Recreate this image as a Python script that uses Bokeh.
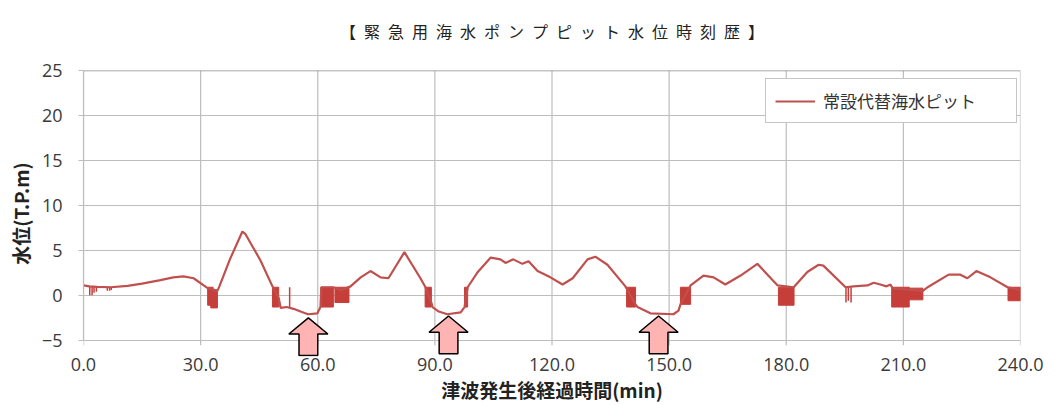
from bokeh.plotting import figure
from bokeh.models import (Range1d, FixedTicker, NumeralTickFormatter, PolyAnnotation,
                          Legend, LegendItem, Span, Title)
from bokeh.embed import file_html
from bokeh.resources import INLINE

title_text = "【緊急用海水ポンプピット水位時刻歴】"
series_name = "常設代替海水ピット"
x_label = "津波発生後経過時間(min)"
y_label = "水位(T.P.m)"

x_ticks = [0, 30, 60, 90, 120, 150, 180, 210, 240]
y_ticks = [-5, 0, 5, 10, 15, 20, 25]

# main water-level trace (min, T.P.m)
time_min = [0, 1.5, 3.5, 7.0, 11.3, 15.0, 19.7, 23.0, 25.6, 28.2, 30.8, 31.8, 34.3, 34.8,
            37.5, 40.7, 41.5, 45.3, 48.4, 50.0, 50.5, 52.0, 53.8, 55.6, 57.5, 59.9, 60.7,
            60.9, 64.0, 66.0, 68.4, 71.0, 73.5, 76.1, 78.1, 82.2, 86.3, 87.6, 89.1, 89.4,
            91.0, 93.2, 96.6, 97.6, 98.4, 101.0, 104.3, 106.8, 108.1, 110.1, 112.4, 114.0,
            116.3, 119.6, 122.7, 125.3, 129.1, 131.1, 134.2, 138.8, 141.4, 141.9, 145.2,
            151.1, 152.4, 152.9, 155.5, 158.8, 161.4, 164.4, 168.3, 172.6, 177.8, 181.9,
            185.4, 188.3, 189.5, 195.2, 197.2, 200.8, 202.4, 204.1, 205.7, 206.7, 207.2,
            215.0, 216.2, 221.6, 224.6, 226.4, 228.7, 232.3, 236.7, 240.0]
level_m = [1.1, 1.0, 0.95, 0.9, 1.05, 1.3, 1.7, 2.0, 2.1, 1.9, 1.1, 0.8, 0.5, 1.0,
           4.0, 7.1, 6.8, 3.9, 1.0, -0.3, -1.4, -1.3, -1.5, -1.8, -2.1, -2.0, -1.3,
           0.9, 0.9, 0.6, 1.0, 2.0, 2.7, 2.0, 1.9, 4.8, 1.9, 0.9, -0.8, -1.3,
           -1.8, -2.1, -1.9, -1.3, 0.9, 2.6, 4.2, 4.0, 3.6, 4.0, 3.5, 3.8,
           2.7, 2.0, 1.2, 1.9, 4.0, 4.3, 3.4, 1.0, -1.0, -1.3, -2.0,
           -2.1, -1.7, -1.0, 1.1, 2.2, 2.0, 1.2, 2.2, 3.5, 1.1, 0.9,
           2.6, 3.4, 3.3, 0.9, 1.0, 1.1, 1.4, 1.2, 1.0, 1.2, 0.8,
           0.5, 0.9, 2.3, 2.3, 1.9, 2.7, 2.0, 0.9, 0.6]

# dense fluctuation bands (start, end, low, high)
band_start = [31.8, 32.6, 48.4, 60.8, 64.4, 87.5, 97.6, 139.1, 152.9, 178.0, 207.0, 211.5, 236.8]
band_end = [33.2, 34.3, 50.0, 64.0, 68.0, 89.1, 98.4, 141.4, 155.5, 182.0, 211.5, 215.0, 240.0]
band_low = [-1.1, -1.4, -1.3, -1.3, -0.8, -1.3, -1.3, -1.3, -1.0, -1.1, -1.3, -0.5, -0.6]
band_high = [0.9, 0.6, 0.9, 0.9, 0.9, 0.9, 0.9, 0.9, 0.9, 0.9, 0.9, 0.8, 0.9]

# isolated spikes
spike_t = [1.6, 2.2, 2.7, 3.3, 6.1, 6.7, 7.1, 52.8, 195.3, 195.9, 196.6]
spike_low = [0.0, 0.0, 0.3, 0.4, 0.5, 0.5, 0.6, -1.4, -0.8, -0.6, -0.8]
spike_high = [1.0, 1.0, 0.95, 0.95, 0.9, 0.9, 0.9, 0.9, 0.9, 1.0, 1.0]

# marker arrows (time, tip level)
arrow_t = [57.6, 93.5, 147.3]
arrow_tip = [-2.5, -2.3, -2.3]

LINE = "#C0504D"
BAND = "#C63E3A"
GRID = "#BDBDBD"
TXT = "#3a3a3a"
JP = "Noto Sans CJK JP"

y_lo = y_ticks[0]
y_hi = y_ticks[-1]
# frame extends slightly below the lowest tick so the arrow tails are visible
p = figure(width=1055, height=405, output_backend="svg", toolbar_location=None,
           x_range=Range1d(x_ticks[0], x_ticks[-1]), y_range=Range1d(y_lo - 1.8, y_hi),
           min_border_left=83, min_border_right=35, min_border_top=70, min_border_bottom=49)
# small spacer between the title and the plot frame
p.add_layout(Title(text="\u00a0", text_font_size="1px", standoff=20), "above")
t = Title(text="\u2002".join(title_text), text_font=JP, text_font_size="16px",
          text_font_style="normal", text_color="#222222", align="center", standoff=10)
p.add_layout(t, "above")

p.outline_line_color = None
p.background_fill_color = "white"
p.border_fill_color = "white"

for ax in (p.xaxis, p.yaxis):
    ax.major_tick_out = 5
    ax.major_tick_in = 0
    ax.minor_tick_line_color = None
    ax.major_label_text_font = "Open Sans"
    ax.major_label_text_font_size = "18px"
    ax.major_label_text_color = TXT
    ax.axis_label_text_font = JP
    ax.axis_label_text_font_style = "bold"
    ax.axis_label_text_color = "#222222"

p.yaxis.axis_line_color = GRID
p.yaxis.axis_line_width = 1.2
p.yaxis.major_tick_line_color = GRID
p.yaxis.bounds = (y_lo, y_hi)
p.xaxis.axis_line_color = None
p.xaxis.major_tick_line_color = None
p.xaxis.major_tick_out = 0

p.xaxis.ticker = FixedTicker(ticks=x_ticks)
p.yaxis.ticker = FixedTicker(ticks=y_ticks)
p.xaxis.formatter = NumeralTickFormatter(format="0.0")
p.xaxis.major_label_standoff = 1
p.yaxis.major_label_standoff = 16
p.xaxis.axis_label = x_label
p.yaxis.axis_label = y_label
p.xaxis.axis_label_text_font_size = "19px"
p.yaxis.axis_label_text_font_size = "19px"
p.xaxis.axis_label_standoff = 2
p.yaxis.axis_label_standoff = 5

p.xgrid.grid_line_color = None
p.ygrid.ticker = FixedTicker(ticks=y_ticks)
p.ygrid.grid_line_color = GRID
p.ygrid.grid_line_width = 1.2

# vertical grid lines, extended 5 px below the lowest tick as tick marks
tick_len = 5 / 9.0
p.segment(x0=x_ticks, y0=[y_lo - tick_len] * len(x_ticks), x1=x_ticks, y1=[y_hi] * len(x_ticks),
          line_color=GRID, line_width=1.2)
p.add_layout(Span(location=y_hi, dimension="width", line_color="#8a8a8a", line_width=1.5))

p.quad(left=band_start, right=band_end, bottom=band_low, top=band_high,
       fill_color=BAND, line_color=BAND, line_width=1)
p.segment(x0=spike_t, y0=spike_low, x1=spike_t, y1=spike_high, line_color=BAND, line_width=1.5)
line_r = p.line(time_min, level_m, line_color=LINE, line_width=2.2)

legend = Legend(items=[LegendItem(label=series_name, renderers=[line_r])],
                location=(682, 233), padding=9, margin=0, spacing=0,
                glyph_width=40, label_standoff=8, label_width=184,
                label_text_font=JP, label_text_font_size="17px", label_text_color="#333333",
                border_line_color="#8c8c8c", border_line_width=1.2,
                background_fill_color="white", background_fill_alpha=1)
p.add_layout(legend)

# arrow geometry (data units)
head_h = 1.8
tail_len = 4.2
head_hw = 5.0
shaft_hw = 2.4
for cx, ty in zip(arrow_t, arrow_tip):
    xs = [cx, cx + head_hw, cx + shaft_hw, cx + shaft_hw, cx - shaft_hw, cx - shaft_hw, cx - head_hw]
    ys = [ty, ty - head_h, ty - head_h, ty - tail_len, ty - tail_len, ty - head_h, ty - head_h]
    p.add_layout(PolyAnnotation(xs=xs, ys=ys, fill_color="#FFB4B4", fill_alpha=1,
                                line_color="black", line_alpha=1, line_width=1.5, level="overlay"))

open("out.html", "w").write(file_html(p, INLINE))
